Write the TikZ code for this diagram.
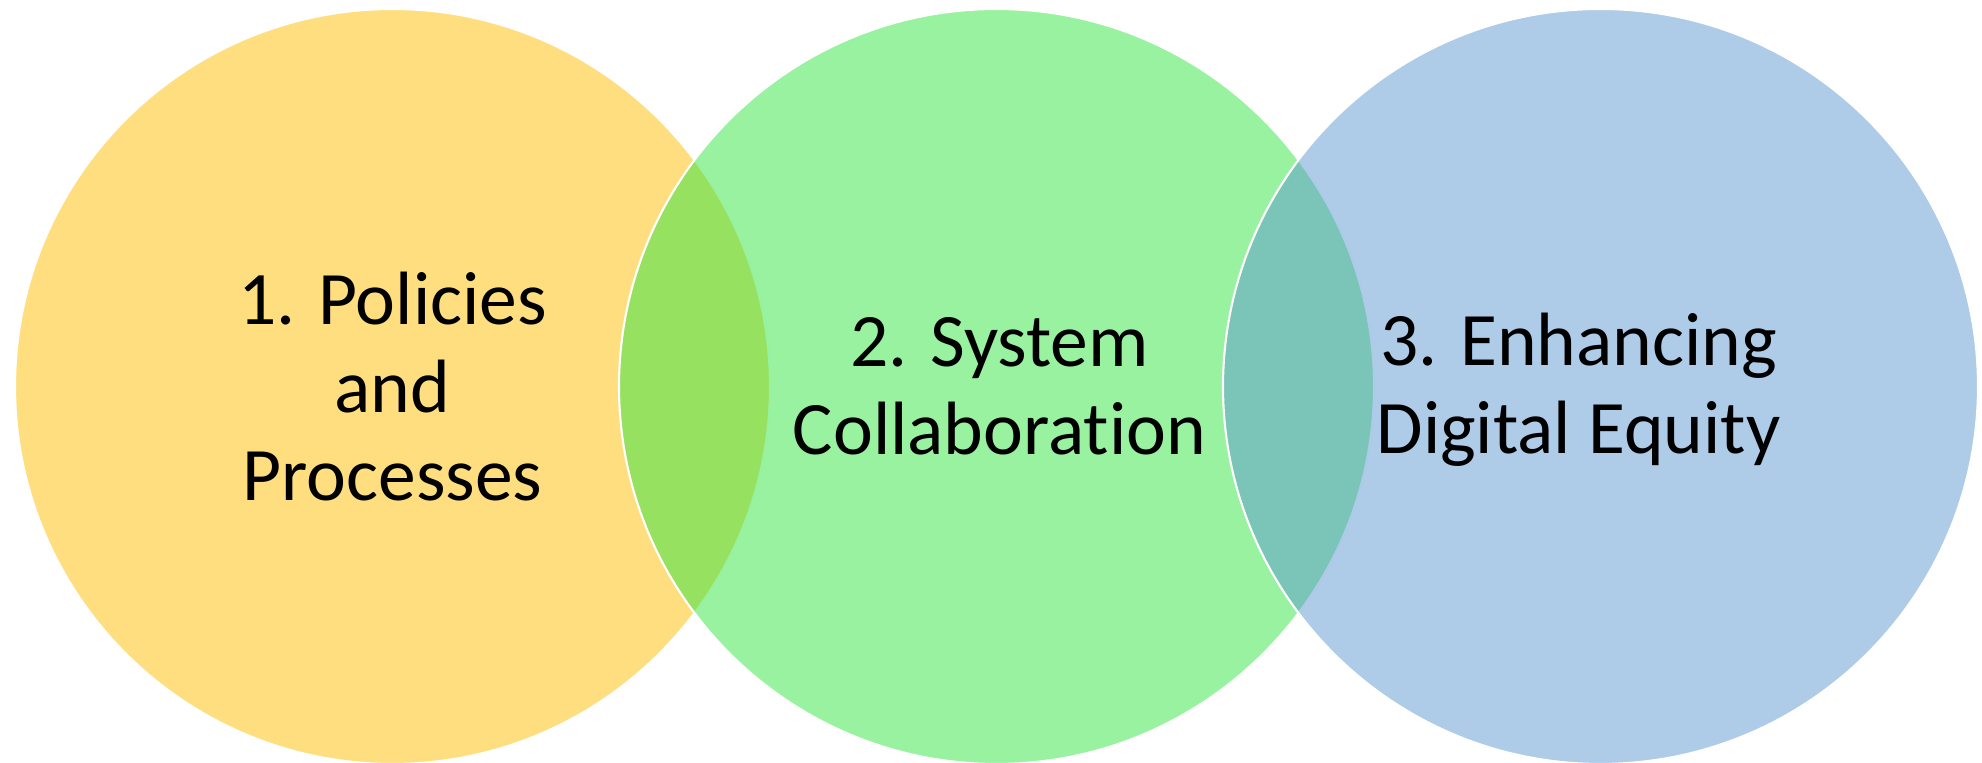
\documentclass[tikz,border=0pt]{standalone}
\usepackage{fontspec}
\setmainfont{Carlito}[Ligatures={NoCommon,NoContextual}]
\definecolor{polyellow}{RGB}{255,222,128}
\definecolor{sysgreen}{RGB}{49,229,65}
\definecolor{digblue}{RGB}{93,151,209}
\begin{document}
\begin{tikzpicture}[
  ring/.style={circle, minimum size=7.55cm, inner sep=0pt, draw=white, line width=0.6pt},
  lbl/.style={align=center, font=\fontsize{21.5}{25}\selectfont}
]
\useasboundingbox (0,0) rectangle (19.82,7.63);
% the three circles
\node[ring, fill=polyellow] (pol) at (3.925,3.765) {};
\node[ring, fill=sysgreen, fill opacity=0.5] (sys) at (9.965,3.765) {};
\node[ring, fill=digblue, fill opacity=0.5] (dig) at (16.005,3.765) {};
% labels
\node[lbl] (poltext) at (pol.center) {1. Policies\\and\\Processes};
\node[lbl] (systext) at ([xshift=0.03cm]sys.center) {2. System\\Collaboration};
\node[lbl] (digtext) at ([xshift=-0.22cm,yshift=-0.03cm]dig.center) {3. Enhancing\\Digital Equity};
\end{tikzpicture}
\end{document}
